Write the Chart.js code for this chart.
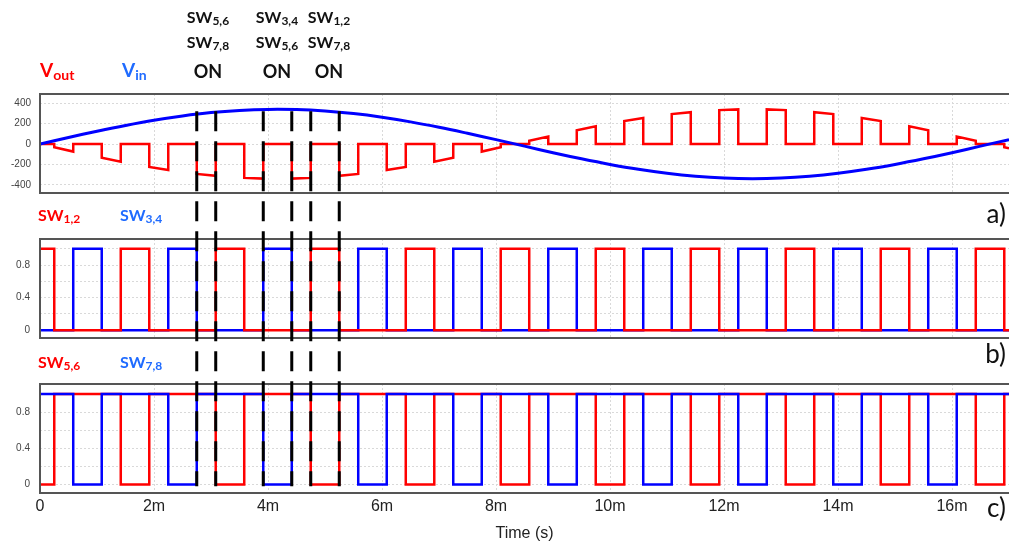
<!DOCTYPE html>
<html>
<head>
<meta charset="utf-8">
<script src="https://cdn.jsdelivr.net/npm/chart.js@4/dist/chart.umd.min.js"></script>
<style>
  body { margin: 0; background: #fff; }
  #marco { position: relative; width: 1009px; height: 543px; overflow: hidden; }
  canvas { position: absolute; left: 0; }
  .etq { position: absolute; font-family: Lato, "Open Sans", sans-serif; font-weight: 700; line-height: 1; white-space: nowrap; }
  .sub { font-size: 12px; position: relative; top: 2px; }
  .rojo { color: #ff0000; }
  .azul { color: #1f6bff; }
  .col { width: 70px; text-align: center; color: #111; }
  .letra { position: absolute; font-family: Lato, sans-serif; font-weight: 400; font-size: 26px; line-height: 1; color: #111; }
</style>
</head>
<body>
<div id="marco">
  <canvas id="g1" width="1009" height="216" style="top:0"></canvas>
  <canvas id="g2" width="1009" height="146" style="top:216px"></canvas>
  <canvas id="g3" width="1009" height="181" style="top:362px"></canvas>

  <div class="etq col" style="left:173px;top:9px;font-size:16px">SW<span class="sub">5,6</span></div>
  <div class="etq col" style="left:173px;top:34px;font-size:16px">SW<span class="sub">7,8</span></div>
  <div class="etq col" style="left:173px;top:62px;font-size:18px">ON</div>
  <div class="etq col" style="left:242px;top:9px;font-size:16px">SW<span class="sub">3,4</span></div>
  <div class="etq col" style="left:242px;top:34px;font-size:16px">SW<span class="sub">5,6</span></div>
  <div class="etq col" style="left:242px;top:62px;font-size:18px">ON</div>
  <div class="etq col" style="left:294px;top:9px;font-size:16px">SW<span class="sub">1,2</span></div>
  <div class="etq col" style="left:294px;top:34px;font-size:16px">SW<span class="sub">7,8</span></div>
  <div class="etq col" style="left:294px;top:62px;font-size:18px">ON</div>

  <div class="etq rojo" style="left:40px;top:60px;font-size:19px">V<span style="font-size:14px;position:relative;top:3px">out</span></div>
  <div class="etq azul" style="left:122px;top:60px;font-size:19px">V<span style="font-size:14px;position:relative;top:3px">in</span></div>

  <div class="etq rojo" style="left:38px;top:207px;font-size:16px">SW<span class="sub">1,2</span></div>
  <div class="etq azul" style="left:120px;top:207px;font-size:16px">SW<span class="sub">3,4</span></div>
  <div class="etq rojo" style="left:38px;top:354px;font-size:16px">SW<span class="sub">5,6</span></div>
  <div class="etq azul" style="left:120px;top:354px;font-size:16px">SW<span class="sub">7,8</span></div>

  <div class="letra" style="right:3px;top:200px">a)</div>
  <div class="letra" style="right:3px;top:340px">b)</div>
  <div class="letra" style="right:3px;top:494px">c)</div>
</div>

<script>
// tiempo en ms
const tMax = 17;
const xTicks = [0, 2, 4, 6, 8, 10, 12, 14, 16];
const xTickLabels = ['0', '2m', '4m', '6m', '8m', '10m', '12m', '14m', '16m'];

const vTicks = [-400, -200, 0, 200, 400];
const vTickLabels = ['-400', '-200', '0', '200', '400'];
const swTicks = [0, 0.2, 0.4, 0.6, 0.8, 1];
const swTickLabels = ['0', '', '0.4', '', '0.8', ''];

// Vin (V) cada 0.5 ms
const vinTiempos = [0, 0.5, 1, 1.5, 2, 2.5, 3, 3.5, 4, 4.5, 5, 5.5, 6, 6.5, 7, 7.5, 8, 8.5,
  9, 9.5, 10, 10.5, 11, 11.5, 12, 12.5, 13, 13.5, 14, 14.5, 15, 15.5, 16, 16.5, 17];
const vinValores = [0, 64, 125, 182, 233, 275, 308, 329, 339, 337, 323, 298, 262, 217, 164, 105, 43, -21,
  -85, -145, -200, -248, -287, -316, -334, -340, -334, -316, -287, -248, -200, -145, -85, -21, 43];

// Vout: tramos donde no es cero
const voutInicio = [0.25, 1.083, 1.917, 2.75, 3.583, 4.417, 5.25, 6.083, 6.917, 7.75, 8.583,
  9.417, 10.25, 11.083, 11.917, 12.75, 13.583, 14.417, 15.25, 16.083, 16.917];
const voutFin = [0.583, 1.417, 2.25, 3.083, 3.917, 4.75, 5.583, 6.417, 7.25, 8.083, 8.917,
  9.75, 10.583, 11.417, 12.25, 13.083, 13.917, 14.75, 15.583, 16.417, 17];
const voutValorInicio = [-32, -135, -225, -293, -332, -339, -312, -255, -173, -74, 32,
  135, 225, 293, 332, 339, 312, 255, 173, 74, -32];
const voutValorFin = [-74, -173, -255, -312, -339, -332, -293, -225, -135, -32, 74,
  173, 255, 312, 339, 332, 293, 225, 135, 32, -43];

// flancos de los interruptores (ms)
const sw12Sube = [-0.25, 1.417, 3.083, 4.75, 6.417, 8.083, 9.75, 11.417, 13.083, 14.75, 16.417];
const sw12Baja = [0.25, 1.917, 3.583, 5.25, 6.917, 8.583, 10.25, 11.917, 13.583, 15.25, 16.917];
const sw34Sube = [0.583, 2.25, 3.917, 5.583, 7.25, 8.917, 10.583, 12.25, 13.917, 15.583];
const sw34Baja = [1.083, 2.75, 4.417, 6.083, 7.75, 9.417, 11.083, 12.75, 14.417, 16.083];

// lineas discontinuas
const marcasTiempo = [2.75, 3.083, 3.917, 4.417, 4.75, 5.25];
const marcaArriba = 320;     // valor en el eje de Vin
const marcaAbajo = -0.02;    // valor en el eje de SW5,6/SW7,8

const ROJO = '#ff0000';
const AZUL = '#0000ff';

function trazaPulsos(subidas, bajadas, alto, bajo) {
  const pts = [];
  subidas.forEach((s, i) => {
    const a = Math.max(s, 0);
    const b = Math.min(bajadas[i], tMax);
    if (s > 0) pts.push({ x: a, y: bajo });
    pts.push({ x: a, y: alto }, { x: b, y: alto });
    if (bajadas[i] < tMax) pts.push({ x: b, y: bajo });
  });
  if (pts[0].x > 0) pts.unshift({ x: 0, y: bajo });
  if (pts[pts.length - 1].x < tMax) pts.push({ x: tMax, y: bajo });
  return pts;
}

function trazaVout() {
  const pts = [{ x: 0, y: 0 }];
  voutInicio.forEach((t, i) => {
    pts.push({ x: t, y: 0 }, { x: t, y: voutValorInicio[i] }, { x: voutFin[i], y: voutValorFin[i] });
    if (voutFin[i] < tMax) pts.push({ x: voutFin[i], y: 0 });
  });
  return pts;
}

const pluginMarcas = {
  id: 'marcas',
  afterDraw: (chart, args, opts) => {
    const { ctx, chartArea, scales: { x, y } } = chart;
    ctx.save();
    // recuadro del panel
    ctx.strokeStyle = '#555';
    ctx.lineWidth = 2;
    ctx.strokeRect(chartArea.left, chartArea.top, chartArea.width + 10, chartArea.bottom - chartArea.top);
    // lineas discontinuas
    const y0 = opts.desde != null ? y.getPixelForValue(opts.desde) : 0;
    const y1 = opts.hasta != null ? y.getPixelForValue(opts.hasta) : chart.height;
    ctx.strokeStyle = '#000';
    ctx.lineWidth = 3;
    ctx.setLineDash([20, 10]);
    ctx.lineDashOffset = opts.offset || 0;
    marcasTiempo.forEach(t => {
      const px = x.getPixelForValue(t);
      ctx.beginPath();
      ctx.moveTo(px, y0);
      ctx.lineTo(px, y1);
      ctx.stroke();
    });
    ctx.restore();
  }
};

function ejeX(mostrarTicks) {
  return {
    type: 'linear',
    min: 0,
    max: tMax,
    afterBuildTicks: (axis) => { axis.ticks = xTicks.map(v => ({ value: v })); },
    afterFit: (axis) => { axis.height = mostrarTicks ? 50 : 0; },
    grid: { color: '#d9d9d9', drawTicks: false },
    border: { display: false, dash: [2, 2] },
    ticks: {
      display: mostrarTicks,
      padding: 4,
      color: '#222',
      font: { family: 'Liberation Sans', size: 16 },
      maxRotation: 0,
      callback: (value, index) => xTickLabels[index]
    },
    title: {
      display: mostrarTicks,
      text: 'Time (s)',
      color: '#222',
      font: { family: 'Liberation Sans', size: 16 },
      padding: { top: 0, bottom: 0 }
    }
  };
}

function ejeY(min, max, ticks, etiquetas, padding) {
  return {
    min: min,
    max: max,
    afterBuildTicks: (axis) => { axis.ticks = ticks.map(v => ({ value: v })); },
    afterFit: (axis) => { axis.width = 40; },
    grid: { color: '#d9d9d9', drawTicks: false },
    border: { display: false, dash: [2, 2] },
    ticks: {
      padding: padding,
      color: '#444',
      font: { family: 'Liberation Sans', size: 10 },
      callback: (value, index) => etiquetas[index]
    }
  };
}

function linea(datos, color, ancho, tension) {
  return {
    data: datos,
    borderColor: color,
    borderWidth: ancho,
    pointRadius: 0,
    tension: tension || 0,
    fill: false
  };
}

function crearGrafico(canvas, datasets, escalaY, padding, xConTicks, marcas) {
  return new Chart(canvas, {
    type: 'line',
    data: { datasets: datasets },
    options: {
      responsive: false,
      animation: false,
      devicePixelRatio: 1,
      events: [],
      layout: { padding: padding },
      scales: { x: ejeX(xConTicks), y: escalaY },
      plugins: {
        legend: { display: false },
        tooltip: { enabled: false },
        marcas: marcas
      }
    },
    plugins: [pluginMarcas]
  });
}

const vinDatos = vinTiempos.map((t, i) => ({ x: t, y: vinValores[i] }));

const grafico1 = crearGrafico(
  document.getElementById('g1'),
  [linea(vinDatos, AZUL, 3, 0.4), linea(trazaVout(), ROJO, 2.5)],
  ejeY(-480, 490, vTicks, vTickLabels, 9),
  { top: 94, bottom: 23, left: 0, right: 0 },
  false,
  { desde: marcaArriba, offset: 0 }
);

const inicioMarcas = grafico1.scales.y.getPixelForValue(marcaArriba);

crearGrafico(
  document.getElementById('g2'),
  [linea(trazaPulsos(sw12Sube, sw12Baja, 1, 0), ROJO, 2.5),
   linea(trazaPulsos(sw34Sube, sw34Baja, 1, 0), AZUL, 2.5)],
  ejeY(-0.095, 1.12, swTicks, swTickLabels, 10),
  { top: 23, bottom: 24, left: 0, right: 0 },
  false,
  { offset: 216 - inicioMarcas }
);

crearGrafico(
  document.getElementById('g3'),
  [linea(trazaPulsos(sw34Sube, sw34Baja, 0, 1), AZUL, 2.5),
   linea(trazaPulsos(sw12Sube, sw12Baja, 0, 1), ROJO, 2.5)],
  ejeY(-0.095, 1.11, swTicks, swTickLabels, 10),
  { top: 22, bottom: 0, left: 0, right: 0 },
  true,
  { hasta: marcaAbajo, offset: 362 - inicioMarcas }
);
</script>
</body>
</html>
